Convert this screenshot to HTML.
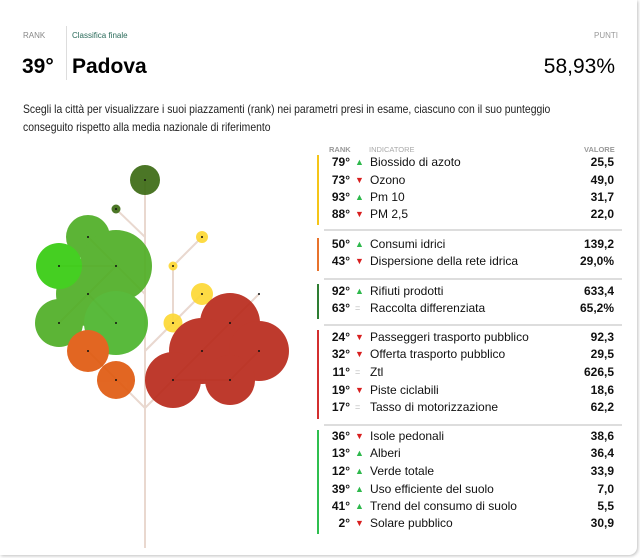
<!DOCTYPE html>
<html><head><meta charset="utf-8"><style>
body{margin:0;width:640px;height:558px;background:#fff;font-family:"Liberation Sans",sans-serif;overflow:hidden;position:relative}
.card{position:absolute;left:0;top:0;width:637px;height:555px;border-radius:0 0 8px 0;box-shadow:1px 1px 3px rgba(0,0,0,.25);background:#fff}
.a{position:absolute;white-space:nowrap}
.r{position:absolute;left:324px;width:290px;height:17px;font-size:12px;color:#111}
.r .k{position:absolute;right:264px;font-weight:bold;top:0}
.r .t{position:absolute;left:46px;top:0}
.r .v{position:absolute;right:0;font-weight:bold;top:0}
.r .s{position:absolute;left:31px;top:0;font-size:9px;line-height:15px}
.up{color:#2db84b}.dn{color:#d81f1f}.eq{color:#bbb}
.sep{position:absolute;left:324px;width:298px;height:2px;background:#ddd}
.bar{position:absolute;left:317px;width:2px}
</style></head><body><div class="card"></div>
<div class="a" style="left:23px;top:31px;font-size:8px;color:#888">RANK</div>
<div class="a" style="left:72px;top:31px;font-size:8px;color:#2a6b5a">Classifica finale</div>
<div class="a" style="left:594px;top:31px;font-size:8px;color:#999">PUNTI</div>
<div class="a" style="left:66px;top:26px;width:1px;height:54px;background:#ddd"></div>
<div class="a" style="left:22px;top:55px;font-size:21px;font-weight:bold">39°</div>
<div class="a" style="left:72px;top:55px;font-size:21px;font-weight:bold">Padova</div>
<div class="a" style="right:25px;top:55px;font-size:21px">58,93%</div>
<div class="a" style="left:23px;top:100px;font-size:12px;line-height:18px;color:#222;transform:scaleX(0.865);transform-origin:0 0">Scegli la città per visualizzare i suoi piazzamenti (rank) nei parametri presi in esame, ciascuno con il suo punteggio<br>conseguito rispetto alla media nazionale di riferimento</div>

<svg class="a" style="left:0;top:0" width="320" height="558">
<g stroke="#e9d8cf" stroke-width="2" fill="none">
<line x1="145" y1="180" x2="145" y2="548"/>
<line x1="116" y1="209" x2="145" y2="237"/>
<line x1="88" y1="237" x2="145" y2="294"/>
<line x1="59" y1="266" x2="116" y2="266"/>
<line x1="116" y1="266" x2="59" y2="323"/>
<line x1="88" y1="294" x2="116" y2="323"/>
<line x1="88" y1="351" x2="145" y2="408"/>
<line x1="202" y1="237" x2="173" y2="266"/>
<line x1="173" y1="266" x2="173" y2="323"/>
<line x1="202" y1="294" x2="145" y2="351"/>
<line x1="259" y1="294" x2="145" y2="408"/>
<line x1="173" y1="380" x2="230" y2="380"/>
<line x1="230" y1="380" x2="259" y2="351"/>
</g>
<g opacity="0.92">
<circle cx="145" cy="180" r="15" fill="#3c6b14"/>
<circle cx="116" cy="209" r="4.5" fill="#3c6b14"/>
<circle cx="88" cy="237" r="22" fill="#4fae25"/>
<circle cx="116" cy="266" r="36" fill="#4fae25"/>
<circle cx="88" cy="294" r="32" fill="#4fae25"/>
<circle cx="59" cy="323" r="24" fill="#4fae25"/>
<circle cx="116" cy="323" r="32" fill="#4cb52c"/>
<circle cx="59" cy="266" r="23" fill="#36cc10"/>
<circle cx="88" cy="351" r="21" fill="#e05a10"/>
<circle cx="116" cy="380" r="19" fill="#e05a10"/>
<circle cx="202" cy="237" r="6" fill="#fdd835"/>
<circle cx="173" cy="266" r="4.5" fill="#fdd835"/>
<circle cx="202" cy="294" r="11" fill="#fdd835"/>
<circle cx="173" cy="323" r="9.5" fill="#fdd835"/>
<circle cx="230" cy="323" r="30" fill="#b92a1c"/>
<circle cx="202" cy="351" r="33" fill="#b92a1c"/>
<circle cx="259" cy="351" r="30" fill="#b92a1c"/>
<circle cx="173" cy="380" r="28" fill="#b92a1c"/>
<circle cx="230" cy="380" r="25" fill="#b92a1c"/>
</g>
<g fill="#111">
<circle cx="145" cy="180" r="1"/><circle cx="116" cy="209" r="1"/><circle cx="88" cy="237" r="1"/><circle cx="116" cy="266" r="1"/><circle cx="59" cy="266" r="1"/><circle cx="88" cy="294" r="1"/><circle cx="59" cy="323" r="1"/><circle cx="116" cy="323" r="1"/><circle cx="88" cy="351" r="1"/><circle cx="116" cy="380" r="1"/><circle cx="202" cy="237" r="1"/><circle cx="173" cy="266" r="1"/><circle cx="202" cy="294" r="1"/><circle cx="173" cy="323" r="1"/><circle cx="259" cy="294" r="1"/><circle cx="230" cy="323" r="1"/><circle cx="202" cy="351" r="1"/><circle cx="259" cy="351" r="1"/><circle cx="173" cy="380" r="1"/><circle cx="230" cy="380" r="1"/>
</g>
</svg>

<div class="a" style="left:329px;top:145px;font-size:7.5px;color:#999;font-weight:bold">RANK</div>
<div class="a" style="left:369px;top:145px;font-size:7.5px;color:#aaa">INDICATORE</div>
<div class="a" style="left:584px;top:145px;font-size:7.5px;color:#999;font-weight:bold">VALORE</div>

<div class="bar" style="top:155px;height:70px;background:#f5c518"></div>
<div class="bar" style="top:238px;height:33px;background:#e8732c"></div>
<div class="bar" style="top:284px;height:35px;background:#2e7d32"></div>
<div class="bar" style="top:330px;height:89px;background:#d32f2f"></div>
<div class="bar" style="top:430px;height:104px;background:#2fbf4f"></div>
<div class="sep" style="top:229px"></div>
<div class="sep" style="top:278px"></div>
<div class="sep" style="top:324px"></div>
<div class="sep" style="top:424px"></div>

<div class="r" style="top:155px"><span class="k">79°</span><span class="s up">▲</span><span class="t">Biossido di azoto</span><span class="v">25,5</span></div>
<div class="r" style="top:173px"><span class="k">73°</span><span class="s dn">▼</span><span class="t">Ozono</span><span class="v">49,0</span></div>
<div class="r" style="top:190px"><span class="k">93°</span><span class="s up">▲</span><span class="t">Pm 10</span><span class="v">31,7</span></div>
<div class="r" style="top:207px"><span class="k">88°</span><span class="s dn">▼</span><span class="t">PM 2,5</span><span class="v">22,0</span></div>
<div class="r" style="top:237px"><span class="k">50°</span><span class="s up">▲</span><span class="t">Consumi idrici</span><span class="v">139,2</span></div>
<div class="r" style="top:254px"><span class="k">43°</span><span class="s dn">▼</span><span class="t">Dispersione della rete idrica</span><span class="v">29,0%</span></div>
<div class="r" style="top:284px"><span class="k">92°</span><span class="s up">▲</span><span class="t">Rifiuti prodotti</span><span class="v">633,4</span></div>
<div class="r" style="top:301px"><span class="k">63°</span><span class="s eq">=</span><span class="t">Raccolta differenziata</span><span class="v">65,2%</span></div>
<div class="r" style="top:330px"><span class="k">24°</span><span class="s dn">▼</span><span class="t">Passeggeri trasporto pubblico</span><span class="v">92,3</span></div>
<div class="r" style="top:347px"><span class="k">32°</span><span class="s dn">▼</span><span class="t">Offerta trasporto pubblico</span><span class="v">29,5</span></div>
<div class="r" style="top:365px"><span class="k">11°</span><span class="s eq">=</span><span class="t">Ztl</span><span class="v">626,5</span></div>
<div class="r" style="top:383px"><span class="k">19°</span><span class="s dn">▼</span><span class="t">Piste ciclabili</span><span class="v">18,6</span></div>
<div class="r" style="top:400px"><span class="k">17°</span><span class="s eq">=</span><span class="t">Tasso di motorizzazione</span><span class="v">62,2</span></div>
<div class="r" style="top:429px"><span class="k">36°</span><span class="s dn">▼</span><span class="t">Isole pedonali</span><span class="v">38,6</span></div>
<div class="r" style="top:446px"><span class="k">13°</span><span class="s up">▲</span><span class="t">Alberi</span><span class="v">36,4</span></div>
<div class="r" style="top:464px"><span class="k">12°</span><span class="s up">▲</span><span class="t">Verde totale</span><span class="v">33,9</span></div>
<div class="r" style="top:482px"><span class="k">39°</span><span class="s up">▲</span><span class="t">Uso efficiente del suolo</span><span class="v">7,0</span></div>
<div class="r" style="top:499px"><span class="k">41°</span><span class="s up">▲</span><span class="t">Trend del consumo di suolo</span><span class="v">5,5</span></div>
<div class="r" style="top:516px"><span class="k">2°</span><span class="s dn">▼</span><span class="t">Solare pubblico</span><span class="v">30,9</span></div>
</body></html>
